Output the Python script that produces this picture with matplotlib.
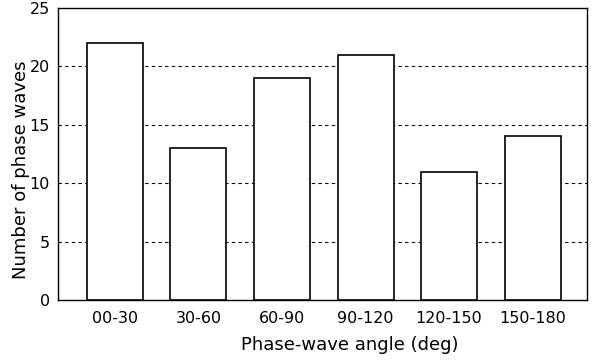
import matplotlib
matplotlib.use("Agg")
import matplotlib.pyplot as plt

categories = ["00-30", "30-60", "60-90", "90-120", "120-150", "150-180"]
counts = [22, 13, 19, 21, 11, 14]
yticks = [0, 5, 10, 15, 20, 25]

fig = plt.figure(figsize=(5.95, 3.6), dpi=100)
ax = fig.add_axes([58/595, 60/360, 529/595, 292/360])

x = list(range(len(categories)))
ax.bar(x, counts, width=0.67, color="white", edgecolor="black", linewidth=1.2, zorder=3)
ax.set_xlim(-0.68, 5.65)
ax.set_ylim(0, 25)
ax.set_yticks(yticks)
ax.set_xticks(x)
ax.set_xticklabels(categories)
for v in yticks[1:-1]:
    ax.axhline(v, color="black", linestyle=(0, (3, 3)), linewidth=0.8, zorder=1)
ax.tick_params(length=0, labelsize=11.5, pad=6)
ax.tick_params(axis="x", pad=8)
for s in ax.spines.values():
    s.set_linewidth(1.0)
ax.set_ylabel("Number of phase waves", fontsize=13)
ax.set_xlabel("Phase-wave angle (deg)", fontsize=13)
ax.yaxis.set_label_coords(-0.053, 0.445)
ax.xaxis.set_label_coords(0.552, -0.125)
fig.savefig("out.png", dpi=100)
